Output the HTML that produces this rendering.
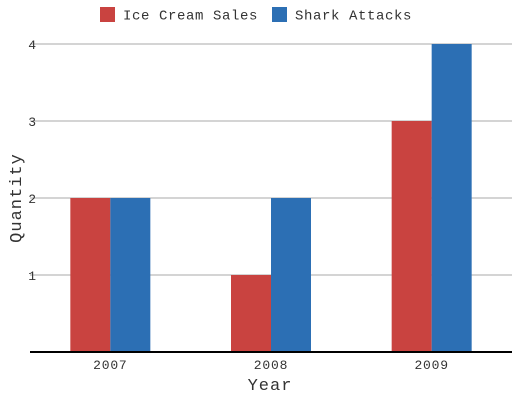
<!DOCTYPE html>
<html><head><meta charset="utf-8"><style>
body{margin:0;background:#fff}
svg{display:block;font-family:"Liberation Mono",monospace}
</style></head><body>
<svg id="c" width="512" height="400">
<g>
<rect x="100" y="7" width="15" height="15" fill="#c94340"/>
<text x="123" y="19.5" font-size="14" fill="#333" letter-spacing="0.6">Ice Cream Sales</text>
<rect x="272" y="7" width="15" height="15" fill="#2c6fb4"/>
<text x="295" y="19.5" font-size="14" fill="#333" letter-spacing="0.6">Shark Attacks</text>
</g>
<g id="grid"></g><g id="bars"></g>
<line x1="30" y1="352" x2="512" y2="352" stroke="#000" stroke-width="2"/>
<g id="xt"></g>
<text x="270" y="390" font-size="17" text-anchor="middle" fill="#333" letter-spacing="1">Year</text>
<text transform="translate(21,198) rotate(-90)" font-size="17" text-anchor="middle" fill="#333" letter-spacing="1">Quantity</text>
</svg>
<script>
const categories=["2007","2008","2009"];
const iceCream=[2,1,3];
const shark=[2,2,4];
const yTicks=[1,2,3,4];
const ns="http://www.w3.org/2000/svg";
const x0=30,x1=512,y0=352,yTop=44,yMax=4;
const y=v=>y0-(y0-yTop)*v/yMax;
const band=(x1-x0)/categories.length;
const cx=i=>x0+band*(i+0.5);
function mk(t,a,p){const e=document.createElementNS(ns,t);for(const k in a)e.setAttribute(k,a[k]);p.appendChild(e);return e;}
const g=document.getElementById('grid');
yTicks.forEach(v=>{
 const l=mk('line',{x1:x0,x2:x1,y1:y(v),y2:y(v),stroke:'#aaa','stroke-width':1},g);
 
 
 const t=mk('text',{x:36,y:y(v)+5,'font-size':13,'text-anchor':'end',fill:'#333'},g);
 t.textContent=v;
 
 
});
const b=document.getElementById('bars'),xt=document.getElementById('xt');
categories.forEach((c,i)=>{
 const r1=mk('rect',{x:cx(i)-40,y:y(iceCream[i]),width:40,height:y0-y(iceCream[i]),fill:'#c94340'},b);
 
 
 const r2=mk('rect',{x:cx(i),y:y(shark[i]),width:40,height:y0-y(shark[i]),fill:'#2c6fb4'},b);
 
 
 const t=mk('text',{x:cx(i),y:369,'font-size':13,'text-anchor':'middle',fill:'#333','letter-spacing':0.8},xt);
 t.textContent=c;
 
 
});
</script>
</body></html>
